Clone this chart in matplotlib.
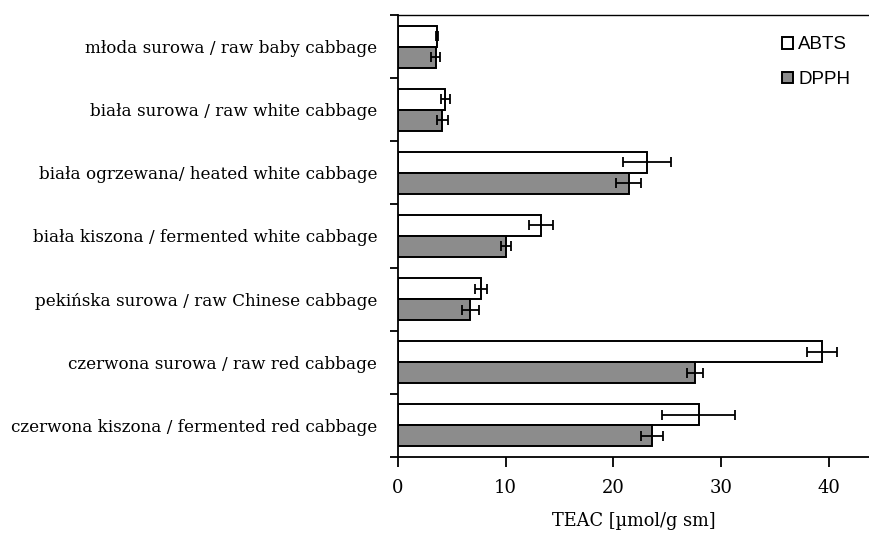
import numpy as np
import matplotlib.pyplot as plt

categories = [
    "młoda surowa / raw baby cabbage",
    "biała surowa / raw white cabbage",
    "biała ogrzewana/ heated white cabbage",
    "biała kiszona / fermented white cabbage",
    "pekińska surowa / raw Chinese cabbage",
    "czerwona surowa / raw red cabbage",
    "czerwona kiszona / fermented red cabbage",
]
abts = [3.6, 4.4, 23.1, 13.3, 7.7, 39.4, 27.9]
abts_err = [0.1, 0.4, 2.2, 1.1, 0.55, 1.4, 3.35]
dpph = [3.5, 4.1, 21.4, 10.0, 6.7, 27.6, 23.6]
dpph_err = [0.4, 0.5, 1.2, 0.45, 0.8, 0.75, 1.0]

fig = plt.figure(figsize=(8.7, 5.35), dpi=100)
ax = fig.add_axes([0.4575, 0.146, 0.541, 0.826])

y = np.arange(len(categories))
h = 0.333
err_kw = dict(elinewidth=1.3, capthick=1.3, ecolor="black")
ax.barh(y - h / 2, abts, height=h, xerr=abts_err, capsize=3.5, color="white",
        edgecolor="black", linewidth=1.4, error_kw=err_kw, label="ABTS")
ax.barh(y + h / 2, dpph, height=h, xerr=dpph_err, capsize=3.5, color="#8c8c8c",
        edgecolor="black", linewidth=1.4, error_kw=err_kw, label="DPPH")

ax.set_ylim(len(categories) - 0.5, -0.5)
ax.set_xlim(0, 43.7)
ax.set_yticks(y)
ax.set_yticklabels(categories, family="DejaVu Serif", fontsize=12.1)
ax.set_yticks(np.arange(-0.5, len(categories)), minor=True)
ax.tick_params(axis="y", which="major", length=0, pad=15)
ax.tick_params(axis="y", which="minor", length=6, width=1.3, direction="out")
ax.set_xticks([0, 10, 20, 30, 40])
ax.tick_params(axis="x", length=7, width=1.3, direction="out", labelsize=13, pad=9)
for lab in ax.get_xticklabels():
    lab.set_family("DejaVu Serif")

ax.spines["right"].set_visible(False)
for s in ["left", "bottom", "top"]:
    ax.spines[s].set_linewidth(1.3)
ax.spines["top"].set_linewidth(1.0)

ax.set_xlabel("TEAC [µmol/g sm]", family="DejaVu Serif", fontsize=12.8, labelpad=11)

ax.legend(loc="upper right", frameon=False, prop={"family": "Liberation Sans", "size": 13.5},
          handlelength=0.6, handleheight=0.6, handletextpad=0.3, labelspacing=0.95,
          bbox_to_anchor=(0.997, 0.99))

fig.savefig("out.png", dpi=100)
